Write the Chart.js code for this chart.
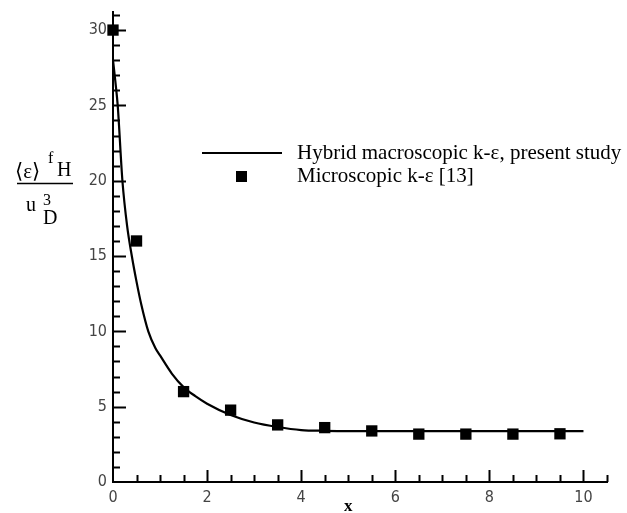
<!DOCTYPE html>
<html>
<head>
<meta charset="utf-8">
<script src="https://cdn.jsdelivr.net/npm/chart.js@4"></script>
<style>
  html, body { margin: 0; padding: 0; background: #fff; }
  #wrap { width: 627px; height: 513px; }
</style>
</head>
<body>
<div id="wrap"><canvas id="chart" width="627" height="513"></canvas></div>
<script>
// hybrid model curve
const curveX = [0, 0.05, 0.1, 0.2, 0.3, 0.4, 0.5, 0.6, 0.75, 0.9, 1.0, 1.25, 1.5, 1.75, 2.0, 2.5, 3.0, 3.5, 4.0, 4.5, 5, 6, 7, 8, 9, 10];
const curveY = [28, 26.6, 25, 20, 17, 15, 13.3, 11.8, 10.0, 8.9, 8.4, 7.2, 6.3, 5.7, 5.2, 4.45, 3.95, 3.65, 3.45, 3.4, 3.38, 3.38, 3.38, 3.38, 3.38, 3.38];

// microscopic k-eps points
const microX = [0, 0.5, 1.5, 2.5, 3.5, 4.5, 5.5, 6.5, 7.5, 8.5, 9.5];
const microY = [30, 16, 6, 4.77, 3.79, 3.61, 3.39, 3.18, 3.18, 3.18, 3.2];

const xTicks = [0, 2, 4, 6, 8, 10];
const yTicks = [0, 5, 10, 15, 20, 25, 30];

const legendLabels = ['Hybrid macroscopic k-\u03b5, present study', 'Microscopic k-\u03b5 [13]'];

const tickFont = '"Liberation Sans Narrow", "DejaVu Sans Condensed", "Liberation Sans", sans-serif';
const serif = '"Liberation Serif", "DejaVu Serif", serif';

// inward tick marks, legend and axis titles
const decorations = {
    id: 'decorations',
    afterDraw(chart) {
        const ctx = chart.ctx;
        const xs = chart.scales.x;
        const ys = chart.scales.y;
        const area = chart.chartArea;
        ctx.save();
        ctx.strokeStyle = '#000';
        ctx.lineWidth = 2;

        // y ticks: minor every 1, major every 5
        for (let v = 1; v <= 31; v++) {
            const py = Math.round(ys.getPixelForValue(v)) + 0.5;
            const len = (v % 5 === 0) ? 13 : 7;
            ctx.beginPath();
            ctx.moveTo(area.left, py);
            ctx.lineTo(area.left + len, py);
            ctx.stroke();
        }
        // x ticks: minor every 0.5, major every 2
        for (let v = 0.5; v <= 10.5; v += 0.5) {
            const px = Math.round(xs.getPixelForValue(v)) + 0.5;
            const len = (v % 2 === 0) ? 12 : 7;
            ctx.beginPath();
            ctx.moveTo(px, area.bottom);
            ctx.lineTo(px, area.bottom - len);
            ctx.stroke();
        }

        // legend
        ctx.fillStyle = '#000';
        ctx.lineWidth = 2;
        ctx.beginPath();
        ctx.moveTo(202, 153);
        ctx.lineTo(282, 153);
        ctx.stroke();
        ctx.fillRect(236, 171, 11, 11);
        ctx.font = '21px ' + serif;
        ctx.textBaseline = 'alphabetic';
        ctx.textAlign = 'left';
        ctx.fillText(legendLabels[0], 297, 159);
        ctx.fillText(legendLabels[1], 297, 182);

        // x title
        ctx.font = 'bold 17px ' + serif;
        ctx.textAlign = 'center';
        ctx.fillText('x', xs.getPixelForValue(5), 511);

        // y title as a fraction
        ctx.textAlign = 'left';
        ctx.font = '21px ' + serif;
        ctx.fillText('\u27e8\u03b5\u27e9', 15, 178);
        ctx.font = '16px ' + serif;
        ctx.fillText('f', 48, 163);
        ctx.font = '20px ' + serif;
        ctx.fillText('H', 57, 176);
        ctx.lineWidth = 1.5;
        ctx.beginPath();
        ctx.moveTo(17, 183.5);
        ctx.lineTo(73, 183.5);
        ctx.stroke();
        ctx.fillText('u', 26, 211);
        ctx.font = '16px ' + serif;
        ctx.fillText('3', 43, 205);
        ctx.font = '20px ' + serif;
        ctx.fillText('D', 43, 224);
        ctx.restore();
    }
};

new Chart(document.getElementById('chart').getContext('2d'), {
    type: 'scatter',
    data: {
        datasets: [{
            label: legendLabels[0],
            type: 'line',
            data: curveX.map((x, i) => ({ x: x, y: curveY[i] })),
            borderColor: '#000',
            borderWidth: 2.2,
            pointRadius: 0,
            cubicInterpolationMode: 'monotone',
            fill: false,
            order: 2
        }, {
            label: legendLabels[1],
            data: microX.map((x, i) => ({ x: x, y: microY[i] })),
            pointStyle: 'rect',
            pointRadius: 8,
            pointHoverRadius: 8,
            backgroundColor: '#000',
            borderColor: '#000',
            borderWidth: 0,
            clip: false,
            order: 1
        }]
    },
    options: {
        responsive: false,
        animation: false,
        layout: { padding: { left: 0, right: 20, top: 12, bottom: 0 } },
        plugins: {
            legend: { display: false },
            tooltip: { enabled: false }
        },
        scales: {
            x: {
                type: 'linear',
                min: 0,
                max: 10.5,
                afterFit(scale) {
                    scale.height = 31;
                    scale.paddingLeft = 0;
                    scale.paddingRight = 0;
                },
                afterBuildTicks(scale) { scale.ticks = xTicks.map(v => ({ value: v })); },
                grid: { drawOnChartArea: false, drawTicks: false },
                border: { display: true, color: '#000', width: 2 },
                ticks: {
                    padding: 6,
                    color: '#444',
                    font: { family: tickFont, size: 16 }
                }
            },
            y: {
                type: 'linear',
                min: 0,
                max: 31.2,
                afterFit(scale) {
                    scale.width = 113;
                    scale.paddingTop = 0;
                    scale.paddingBottom = 0;
                },
                afterBuildTicks(scale) { scale.ticks = yTicks.map(v => ({ value: v })); },
                grid: { drawOnChartArea: false, drawTicks: false },
                border: { display: true, color: '#000', width: 2 },
                ticks: {
                    padding: 6,
                    color: '#444',
                    font: { family: tickFont, size: 16 }
                }
            }
        }
    },
    plugins: [decorations]
});
</script>
</body>
</html>
